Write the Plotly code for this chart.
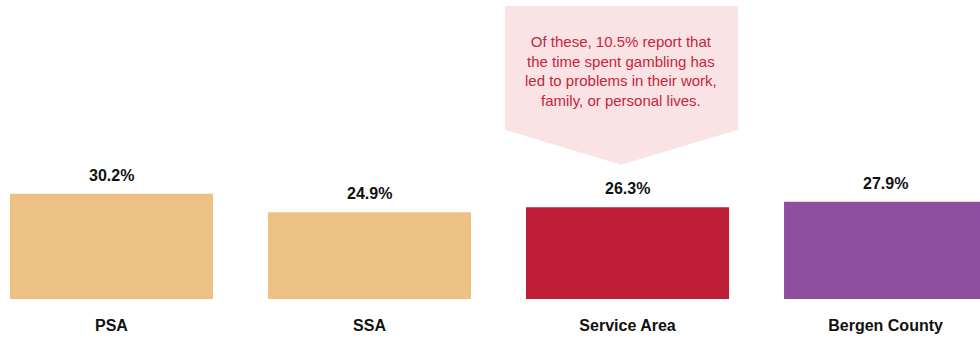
import plotly.graph_objects as go

categories = ["PSA", "SSA", "Service Area", "Bergen County"]
values = [30.2, 24.9, 26.3, 27.9]
bar_colors = ["#EDC184", "#EDC184", "#BE1E37", "#8E509E"]
value_labels = [f"{v:.1f}%" for v in values]

callout_text = (
    "Of these, 10.5% report that<br>the time spent gambling has<br>"
    "led to problems in their work,<br>family, or personal lives."
)
callout_index = 2

FONT = "Liberation Sans, Arial, sans-serif"

x = list(range(len(categories)))

fig = go.Figure(
    go.Bar(
        x=x,
        y=values,
        width=0.787,
        marker=dict(color=bar_colors, line=dict(width=0)),
        hoverinfo="skip",
    )
)

for i, (v, lbl) in enumerate(zip(values, value_labels)):
    fig.add_annotation(
        x=i, y=v, text=f"<b>{lbl}</b>", showarrow=False,
        yanchor="bottom", yshift=8,
        font=dict(family=FONT, size=16, color="#111111"),
    )

# callout box with a downward chevron over the Service Area bar
c = callout_index
fig.add_shape(
    type="path",
    xref="x", yref="y",
    path=(
        f"M {c - 0.475} 84 L {c + 0.428} 84 L {c + 0.428} 48.5 "
        f"L {c - 0.025} 38.5 L {c - 0.475} 48.5 Z"
    ),
    fillcolor="#FAE3E4",
    line=dict(width=0),
    layer="below",
)
fig.add_annotation(
    x=c - 0.025, y=65.3, xref="x", yref="y",
    text=callout_text, showarrow=False, align="center",
    font=dict(family=FONT, size=15, color="#C8233F"),
)

fig.update_layout(
    width=980,
    height=339,
    margin=dict(l=0, r=0, t=0, b=40),
    paper_bgcolor="white",
    plot_bgcolor="white",
    showlegend=False,
    xaxis=dict(
        range=[-0.432, 3.366],
        tickvals=x,
        ticktext=[f"<b>{c}</b>" for c in categories],
        tickfont=dict(family=FONT, size=16, color="#111111"),
        showgrid=False, zeroline=False, showline=False, ticks="",
        ticklabelstandoff=15,
    ),
    yaxis=dict(range=[0, 85.7], visible=False),
)

fig.write_html(
    "out.html",
    config={"displayModeBar": False},
    post_script="document.body.style.margin='0';",
)
